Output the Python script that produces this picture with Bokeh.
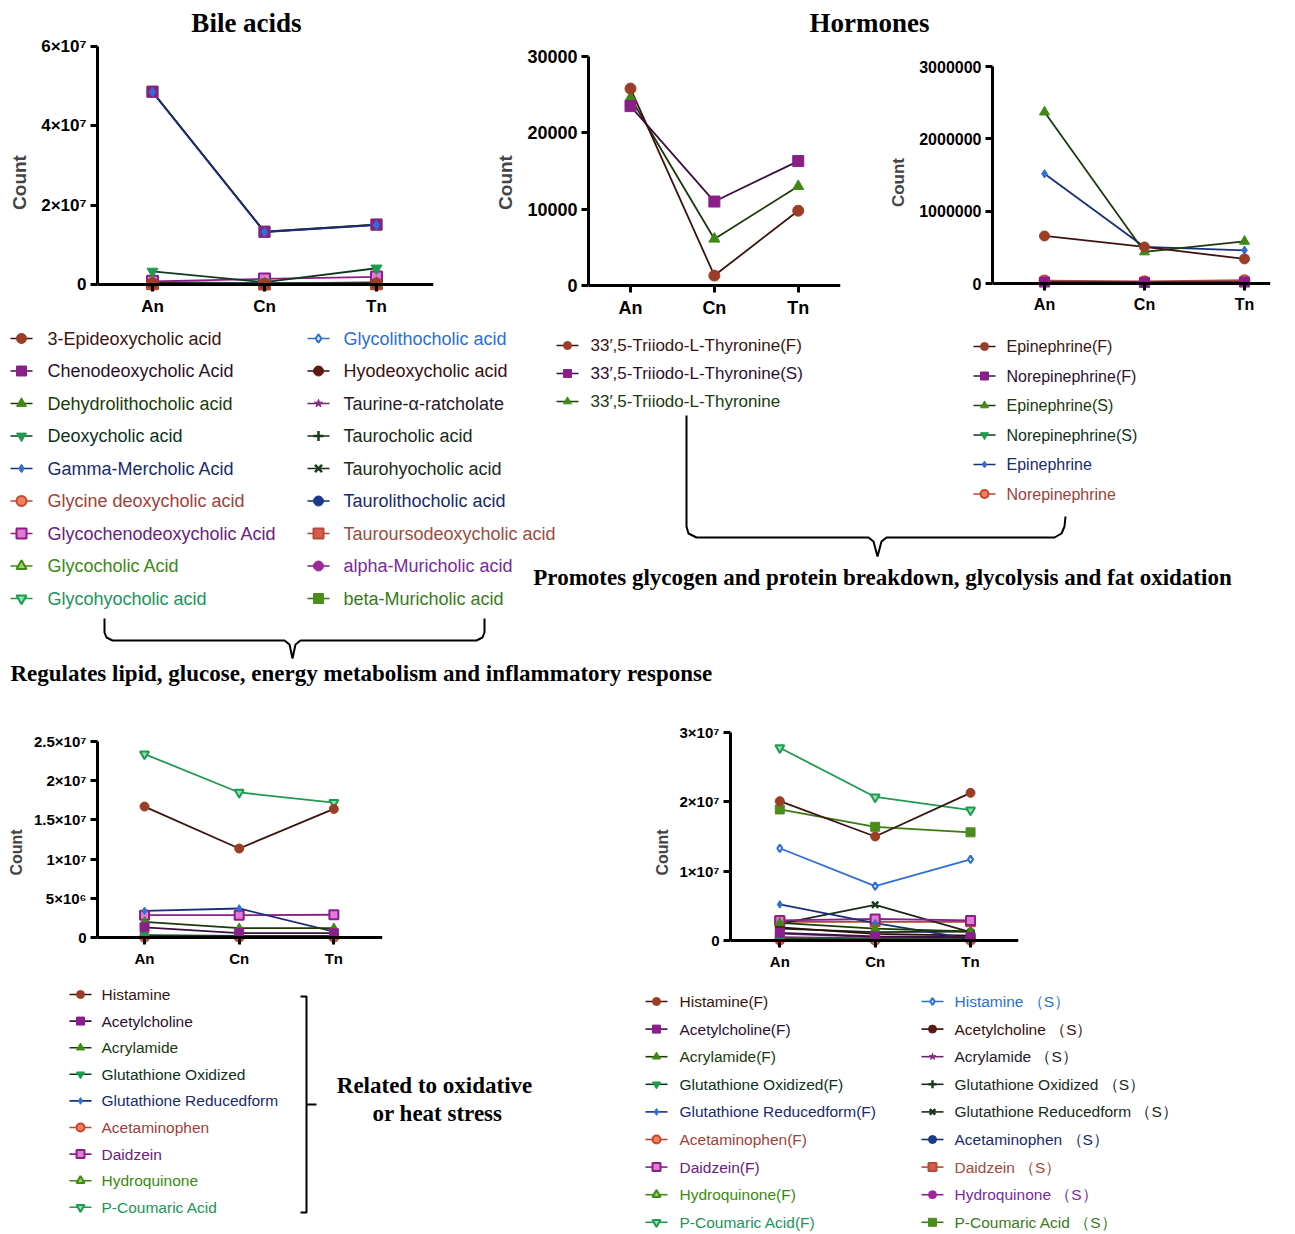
from bokeh.plotting import figure
from bokeh.layouts import column, row
from bokeh.models import Range1d, FixedTicker
from bokeh.core.properties import value
from bokeh.embed import file_html
from bokeh.resources import INLINE

SANS = "Liberation Sans"
SERIF = "Liberation Serif"

# ---------------- data ----------------
categories = ["An", "Cn", "Tn"]
cat_pos = [0, 1, 2]

bile_names = ["3-Epideoxycholic acid", "Chenodeoxycholic Acid", "Dehydrolithocholic acid",
              "Deoxycholic acid", "Gamma-Mercholic Acid", "Glycine deoxycholic acid",
              "Glycochenodeoxycholic Acid", "Glycocholic Acid", "Glycohyocholic acid",
              "Glycolithocholic acid", "Hyodeoxycholic acid", "Taurine-α-ratcholate",
              "Taurocholic acid", "Taurohyocholic acid", "Taurolithocholic acid",
              "Tauroursodeoxycholic acid", "alpha-Muricholic acid", "beta-Muricholic acid"]
bile_values = [
    [3.0e5, 1.5e5, 2.5e5],
    [4.86e7, 1.33e7, 1.51e7],
    [4.0e5, 2.5e5, 3.5e5],
    [3.3e6, 6.0e5, 4.1e6],
    [4.85e7, 1.32e7, 1.50e7],
    [1.0e5, 5.0e4, 1.0e5],
    [8.0e5, 1.4e6, 1.9e6],
    [2.0e5, 1.0e5, 2.0e5],
    [1.5e5, 1.0e5, 1.5e5],
    [5.0e5, 3.0e5, 4.0e5],
    [2.0e5, 1.0e5, 1.5e5],
    [1.0e5, 5.0e4, 1.0e5],
    [6.0e5, 3.0e5, 5.0e5],
    [3.0e5, 2.0e5, 3.0e5],
    [1.0e5, 5.0e4, 1.0e5],
    [2.0e5, 1.5e5, 2.0e5],
    [4.0e5, 2.0e5, 3.0e5],
    [4.86e7, 1.33e7, 1.51e7],
]
bile_yticks = [0, 2e7, 4e7, 6e7]
bile_ylabels = ["0", "2×10⁷", "4×10⁷", "6×10⁷"]

t3_names = ["33′,5-Triiodo-L-Thyronine(F)", "33′,5-Triiodo-L-Thyronine(S)", "33′,5-Triiodo-L-Thyronine"]
t3_values = [
    [25800, 1300, 9800],
    [23500, 11000, 16300],
    [24600, 6100, 13000],
]
t3_yticks = [0, 10000, 20000, 30000]
t3_ylabels = ["0", "10000", "20000", "30000"]

epi_names = ["Epinephrine(F)", "Norepinephrine(F)", "Epinephrine(S)", "Norepinephrine(S)",
             "Epinephrine", "Norepinephrine"]
epi_values = [
    [657000, 505000, 340000],
    [20000, 15000, 20000],
    [2370000, 436000, 583000],
    [15000, 12000, 15000],
    [1516000, 505000, 459000],
    [40000, 30000, 45000],
]
epi_yticks = [0, 1000000, 2000000, 3000000]
epi_ylabels = ["0", "1000000", "2000000", "3000000"]

stress_names = ["Histamine", "Acetylcholine", "Acrylamide", "Glutathione Oxidized",
                "Glutathione Reducedform", "Acetaminophen", "Daidzein", "Hydroquinone",
                "P-Coumaric Acid"]
stress_values = [
    [1.67e7, 1.135e7, 1.64e7],
    [1.3e6, 5.5e5, 5.5e5],
    [2.0e6, 1.2e6, 1.2e6],
    [3.0e5, 2.0e5, 2.0e5],
    [3.4e6, 3.7e6, 7.5e5],
    [5.0e4, 5.0e4, 5.0e4],
    [2.85e6, 2.85e6, 2.9e6],
    [2.0e5, 1.5e5, 1.5e5],
    [2.34e7, 1.85e7, 1.72e7],
]
stress_yticks = [0, 5e6, 1e7, 1.5e7, 2e7, 2.5e7]
stress_ylabels = ["0", "5×10⁶", "1×10⁷", "1.5×10⁷", "2×10⁷", "2.5×10⁷"]

fs_names_f = ["Histamine(F)", "Acetylcholine(F)", "Acrylamide(F)", "Glutathione Oxidized(F)",
              "Glutathione Reducedform(F)", "Acetaminophen(F)", "Daidzein(F)", "Hydroquinone(F)",
              "P-Coumaric Acid(F)"]
fs_values_f = [
    [2.01e7, 1.50e7, 2.13e7],
    [1.1e6, 5.8e5, 4.8e5],
    [2.55e6, 1.7e6, 1.3e6],
    [2.0e5, 1.5e5, 1.5e5],
    [5.2e6, 2.5e6, 2.5e5],
    [1.0e5, 5.0e4, 5.0e4],
    [2.9e6, 3.1e6, 2.9e6],
    [3.0e5, 2.0e5, 2.0e5],
    [2.78e7, 2.07e7, 1.88e7],
]
fs_names_s = ["Histamine （S）", "Acetylcholine （S）", "Acrylamide （S）", "Glutathione Oxidized （S）",
              "Glutathione Reducedform （S）", "Acetaminophen （S）", "Daidzein （S）",
              "Hydroquinone （S）", "P-Coumaric Acid （S）"]
fs_values_s = [
    [1.33e7, 7.85e6, 1.17e7],
    [1.9e6, 9.6e5, 7.0e5],
    [5.0e5, 3.0e5, 3.0e5],
    [1.7e6, 1.2e6, 1.3e6],
    [2.4e6, 5.15e6, 1.2e6],
    [3.0e5, 2.0e5, 2.0e5],
    [2.7e6, 2.7e6, 2.7e6],
    [1.0e6, 5.0e5, 4.0e5],
    [1.89e7, 1.64e7, 1.56e7],
]
fs_yticks = [0, 1e7, 2e7, 3e7]
fs_ylabels = ["0", "1×10⁷", "2×10⁷", "3×10⁷"]

# ---------------- series styles (Prism-like) ----------------
style_marker = ["circle", "square", "triangle", "inverted_triangle", "diamond",
                "circle", "square", "triangle", "inverted_triangle", "diamond",
                "circle", "star", "cross", "x", "circle", "square", "circle", "square"]
style_fill = ["#9c3d26", "#8a1f8a", "#3f8a14", "#1f9a50", "#2f6fd4",
              "#f08060", "#e27ad6", "#9ed06a", "#8fe0b0", "#dce9ff",
              "#5c1a12", "#8a2a8a", "#1c3a1c", "#1c3a1c", "#1c3a8c", "#d0604c", "#9a2a9a", "#4c8c1c"]
style_outline = ["#9c3d26", "#8a1f8a", "#3f8a14", "#1f9a50", "#2f6fd4",
                 "#c8452c", "#8a1f8a", "#3f8a14", "#1f9a50", "#2f6fd4",
                 "#5c1a12", "#8a2a8a", "#1c3a1c", "#1c3a1c", "#1c3a8c", "#b84838", "#9a2a9a", "#4c8c1c"]
style_line = ["#3a1510", "#3a1040", "#1c3a0c", "#0e3a20", "#1a2f7a",
              "#b04838", "#8a1f8a", "#3f8a14", "#1f9a50", "#2f6fd4",
              "#2a0c08", "#6a2a6a", "#1c2a1c", "#1c2a1c", "#1a2a6a", "#b04838", "#7a2a8a", "#3c7a14"]
style_text = ["#3a1510", "#2d1030", "#1c3a0c", "#0e301c", "#1a2a6a",
              "#a0403a", "#6a2080", "#3a8a10", "#20945a", "#2a6fd6",
              "#3a1010", "#2a1a2a", "#1a2a1a", "#1a2a1a", "#1a2a6a", "#a04a40", "#7a2a9a", "#3a7a1a"]
style_mlw = [1, 1, 1, 1, 1, 2, 2, 2, 2, 2, 1, 1, 2.5, 2.5, 1, 2, 1, 1]


def make_chart(series, style_ids, y_max, yticks, ylabels, frame_w, frame_h, top_px, zero_px,
               x_start, x_end, borders, tick_font, count_font, msize, standoff=8, on_top=()):
    # top_px / zero_px: pixel offsets (from the frame top) of y_max and of zero
    u = y_max / (zero_px - top_px)
    y_end = y_max + u * top_px
    y_start = -u * (frame_h - zero_px)
    p = figure(frame_width=frame_w, frame_height=frame_h,
               min_border_left=borders[0], min_border_right=borders[1],
               min_border_top=borders[2], min_border_bottom=borders[3],
               x_range=Range1d(x_start, x_end), y_range=Range1d(y_start, y_end),
               output_backend="svg", toolbar_location=None)
    p.title.visible = False
    p.grid.visible = False
    p.outline_line_color = None
    p.background_fill_color = "white"
    xa = p.xaxis[0]
    ya = p.yaxis[0]
    xa.ticker = FixedTicker(ticks=cat_pos)
    xa.major_label_overrides = {c: t for c, t in zip(cat_pos, categories)}
    xa.fixed_location = 0
    ya.ticker = FixedTicker(ticks=yticks)
    ya.major_label_overrides = {v: t for v, t in zip(yticks, ylabels)}
    ya.bounds = (0, y_max)
    for ax in (xa, ya):
        ax.axis_line_width = 3
        ax.axis_line_color = "black"
        ax.major_tick_line_width = 3
        ax.major_tick_line_color = "black"
        ax.major_tick_out = 7
        ax.major_tick_in = 0
        ax.minor_tick_line_color = None
        ax.major_label_text_font = SANS
        ax.major_label_text_font_style = "bold"
        ax.major_label_text_font_size = tick_font
        ax.major_label_text_color = "black"
    xa.major_label_standoff = 5
    ya.major_label_standoff = 4
    ya.axis_label = "Count"
    ya.axis_label_text_font = SANS
    ya.axis_label_text_font_style = "bold"
    ya.axis_label_text_font_size = count_font
    ya.axis_label_standoff = standoff
    n = len(series)
    line_order = [k for k in reversed(range(n)) if k not in on_top] + list(on_top)
    for k in line_order:
        s = style_ids[k]
        p.line(cat_pos, series[k], line_color=style_line[s], line_width=1.8)
    for k in line_order:
        s = style_ids[k]
        sz = msize * (0.85 if style_marker[s] in ("star", "diamond") else 1.0)
        p.scatter(cat_pos, series[k], marker=style_marker[s], size=sz,
                  fill_color=style_fill[s], line_color=style_outline[s],
                  line_width=style_mlw[s])
    return p


def canvas(x0, x1, y0, y1):
    p = figure(width=x1 - x0, height=y1 - y0, x_range=Range1d(x0, x1), y_range=Range1d(y1, y0),
               x_axis_location=None, y_axis_location=None, min_border=0,
               output_backend="svg", toolbar_location=None)
    p.title.visible = False
    p.grid.visible = False
    p.outline_line_color = None
    return p


def draw_legend(p, names, style_ids, xm, y0, step, font, msize, dx=25, half=11):
    n = len(names)
    ys = [y0 + i * step for i in range(n)]
    p.segment(x0=[xm - half] * n, y0=ys, x1=[xm + half] * n, y1=ys,
              line_color=[style_line[s] for s in style_ids], line_width=1.6)
    p.scatter(x=[xm] * n, y=ys, marker=[style_marker[s] for s in style_ids],
              size=[msize * (0.85 if style_marker[s] in ("star", "diamond") else 1.0) for s in style_ids],
              fill_color=[style_fill[s] for s in style_ids],
              line_color=[style_outline[s] for s in style_ids],
              line_width=[style_mlw[s] for s in style_ids])
    p.text(x=[xm + dx] * n, y=ys, text=names, text_color=[style_text[s] for s in style_ids],
           text_font=value(SANS), text_font_size=value(font),
           text_baseline="middle", text_align="left")


def draw_text(p, x, y, txt, size, align="center"):
    p.text(x=[x], y=[y], text=[txt], text_font=value(SERIF), text_font_style="bold",
           text_font_size=value(size), text_color="black", text_align=align,
           text_baseline="middle")


W = 1292

# ---------------- title band ----------------
top0 = canvas(0, W, 0, 36)
draw_text(top0, 246, 22, "Bile acids", "27px")
draw_text(top0, 869, 22, "Hormones", "27px")

# ---------------- top charts (frames share top=46, bottom=318) ----------------
bile_ids = list(range(18))
ba = make_chart(bile_values, bile_ids, 6e7, bile_yticks, bile_ylabels,
                336, 272, 0, 238, -0.491, 2.509, (97, 57, 10, 4), "17px", "19px", 11,
                on_top=(4,))
h1 = make_chart(t3_values, [0, 1, 2], 30000, t3_yticks, t3_ylabels,
                252, 272, 10, 239, -0.501, 2.504, (98, 30, 10, 4), "18px", "19px", 11)
h2 = make_chart(epi_values, [0, 1, 2, 3, 4, 5], 3000000, epi_yticks, epi_ylabels,
                278, 272, 20, 237, -0.52, 2.26, (122, 22, 10, 4), "16px", "17px", 10)

# ---------------- middle band: legends, braces, notes ----------------
mid = canvas(0, W, 322, 690)
draw_legend(mid, bile_names[:9], bile_ids[:9], 21, 338, 32.5, "18px", 10, dx=26)
draw_legend(mid, bile_names[9:], bile_ids[9:], 318, 338, 32.5, "18px", 10, dx=25)
draw_legend(mid, t3_names, [0, 1, 2], 567, 345, 28, "17px", 8, dx=23)
draw_legend(mid, epi_names, [0, 1, 2, 3, 4, 5], 984, 346, 29.5, "16px", 8, dx=22)
mid.line([686, 686, 688, 696, 868, 873, 877, 881, 886, 1054, 1061, 1064, 1065],
         [415, 526, 533, 537, 537, 541, 556, 541, 537, 537, 533, 526, 516],
         line_color="black", line_width=2)
draw_text(mid, 882, 577, "Promotes glycogen and protein breakdown, glycolysis and fat oxidation", "23px")
mid.line([104, 104, 106, 112, 284, 289, 292, 295, 300, 476, 482, 484, 484],
         [618, 632, 637, 640, 640, 644, 658, 644, 640, 640, 637, 632, 618],
         line_color="black", line_width=2)
draw_text(mid, 10, 673, "Regulates lipid, glucose, energy metabolism and inflammatory response", "23px", align="left")

# ---------------- bottom charts (frames share top=732, bottom=972) ----------------
bl = make_chart(stress_values, list(range(9)), 2.5e7, stress_yticks, stress_ylabels,
                285, 240, 9, 205, -0.497, 2.514, (97, 218, 42, 3), "15px", "16px", 9, standoff=6)
br = make_chart(fs_values_f + fs_values_s, list(range(18)), 3e7, fs_yticks, fs_ylabels,
                288, 240, 0, 208, -0.517, 2.503, (130, 274, 42, 3), "15px", "16px", 9, standoff=6)

# ---------------- bottom band: legends, bracket, note ----------------
bot = canvas(0, W, 975, 1232)
draw_legend(bot, stress_names, list(range(9)), 80, 994, 26.6, "15.5px", 8, dx=21)
draw_legend(bot, fs_names_f, list(range(9)), 656, 1001, 27.6, "15.5px", 8, dx=23)
draw_legend(bot, fs_names_s, list(range(9, 18)), 932, 1001, 27.6, "15.5px", 8, dx=22)
bot.line([300, 306, 306, 300], [996, 996, 1212, 1212], line_color="black", line_width=2)
bot.line([306, 316], [1104, 1104], line_color="black", line_width=2)
draw_text(bot, 434, 1085, "Related to oxidative", "23px")
draw_text(bot, 437, 1113, "or heat stress", "23px")

layout = column(top0, row(ba, h1, h2), mid, row(bl, br), bot)

open("out.html", "w").write(file_html(layout, INLINE))
